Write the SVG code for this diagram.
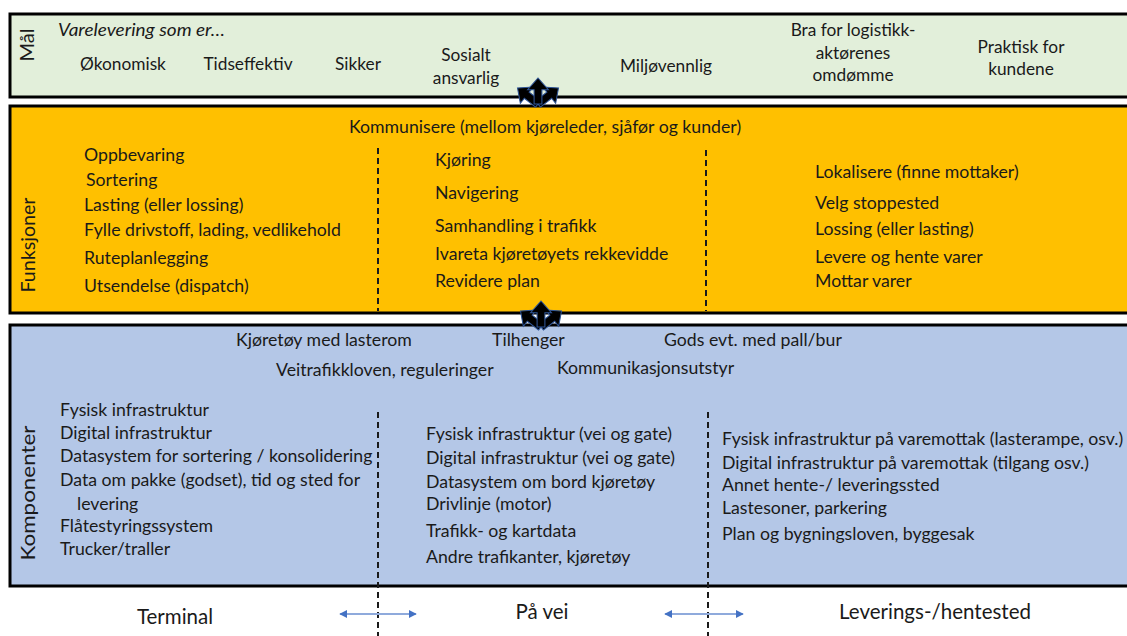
<svg xmlns="http://www.w3.org/2000/svg" width="1127" height="636" viewBox="0 0 1127 636">
<style>
text{font-family:Lato,"Open Sans","Liberation Sans",sans-serif;font-size:17.7px;fill:#1a1a1a}
.c{text-anchor:middle}
.top{font-size:17.3px}
.band{stroke:#000;stroke-width:3}
.dash{stroke:#1a1a1a;stroke-width:2;stroke-dasharray:6 4;fill:none}
.lab{font-size:20px}
.bot{font-size:20.5px}
</style>
<defs>
<path id="ua" d="M-3,0 L-3,-11 L-8,-11 L0,-20 L8,-11 L3,-11 L3,0 Z" fill="#000" stroke="#2F5597" stroke-width="0.8"/>
<g id="tri">
<use href="#ua" transform="rotate(-52)"/>
<use href="#ua" transform="rotate(52)"/>
<use href="#ua"/>
</g>
<marker id="ah" viewBox="0 0 10 10" refX="9" refY="5" markerWidth="4" markerHeight="4" orient="auto-start-reverse">
<path d="M0,0 L10,5 L0,10 Z" fill="#4472C4"/>
</marker>
</defs>

<g id="mal">
<rect class="band" x="10" y="14" width="1125" height="83" fill="#E2EFDA"/>
<text class="c lab" transform="translate(34,45) rotate(-90)" textLength="33" lengthAdjust="spacingAndGlyphs">Mål</text>
<text x="58" y="36" font-style="italic" font-size="19" textLength="167" lengthAdjust="spacingAndGlyphs">Varelevering som er…</text>
<text class="c top" x="123" y="70">Økonomisk</text>
<text class="c top" x="248" y="70">Tidseffektiv</text>
<text class="c top" x="358" y="70">Sikker</text>
<text class="c top" x="466" y="61">Sosialt</text>
<text class="c top" x="466" y="84">ansvarlig</text>
<text class="c top" x="666" y="72">Miljøvennlig</text>
<text class="c top" x="853" y="36">Bra for logistikk-</text>
<text class="c top" x="853" y="59">aktørenes</text>
<text class="c top" x="853" y="81">omdømme</text>
<text class="c top" x="1021" y="53">Praktisk for</text>
<text class="c top" x="1021" y="75">kundene</text>
</g>

<g id="funksjoner">
<rect class="band" x="10" y="106" width="1125" height="207" fill="#FFC000"/>
<text class="c lab" transform="translate(35,245) rotate(-90)" textLength="95" lengthAdjust="spacingAndGlyphs">Funksjoner</text>
<text class="c" x="545" y="133">Kommunisere (mellom kjøreleder, sjåfør og kunder)</text>
<text x="84" y="161">Oppbevaring</text>
<text x="86" y="186">Sortering</text>
<text x="84" y="211">Lasting (eller lossing)</text>
<text x="84" y="236">Fylle drivstoff, lading, vedlikehold</text>
<text x="84" y="264">Ruteplanlegging</text>
<text x="84" y="292">Utsendelse (dispatch)</text>
<text x="435" y="166">Kjøring</text>
<text x="435" y="199">Navigering</text>
<text x="435" y="232">Samhandling i trafikk</text>
<text x="435" y="260">Ivareta kjøretøyets rekkevidde</text>
<text x="435" y="287">Revidere plan</text>
<text x="815" y="178">Lokalisere (finne mottaker)</text>
<text x="815" y="209">Velg stoppested</text>
<text x="815" y="235">Lossing (eller lasting)</text>
<text x="815" y="263">Levere og hente varer</text>
<text x="815" y="287">Mottar varer</text>
</g>

<g id="komponenter">
<rect class="band" x="10" y="325" width="1125" height="261" fill="#B4C7E7"/>
<text class="c lab" transform="translate(35,493) rotate(-90)" textLength="135" lengthAdjust="spacingAndGlyphs">Komponenter</text>
<text x="236" y="346">Kjøretøy med lasterom</text>
<text x="492" y="346">Tilhenger</text>
<text x="664" y="346">Gods evt. med pall/bur</text>
<text x="276" y="376">Veitrafikkloven, reguleringer</text>
<text x="557" y="374">Kommunikasjonsutstyr</text>
<text x="60" y="416">Fysisk infrastruktur</text>
<text x="60" y="439">Digital infrastruktur</text>
<text x="60" y="462">Datasystem for sortering / konsolidering</text>
<text x="60" y="486">Data om pakke (godset), tid og sted for</text>
<text x="77" y="510">levering</text>
<text x="60" y="532">Flåtestyringssystem</text>
<text x="60" y="555">Trucker/traller</text>
<text x="426" y="440">Fysisk infrastruktur (vei og gate)</text>
<text x="426" y="464">Digital infrastruktur (vei og gate)</text>
<text x="426" y="488">Datasystem om bord kjøretøy</text>
<text x="426" y="510">Drivlinje (motor)</text>
<text x="426" y="537">Trafikk- og kartdata</text>
<text x="426" y="563">Andre trafikanter, kjøretøy</text>
<text x="722" y="445">Fysisk infrastruktur på varemottak (lasterampe, osv.)</text>
<text x="722" y="469">Digital infrastruktur på varemottak (tilgang osv.)</text>
<text x="722" y="491">Annet hente-/ leveringssted</text>
<text x="722" y="514">Lastesoner, parkering</text>
<text x="722" y="540">Plan og bygningsloven, byggesak</text>
</g>

<g id="bunn">
<text class="c bot" x="175" y="624">Terminal</text>
<text class="c bot" x="542" y="619">På vei</text>
<text class="c bot" x="935" y="619">Leverings-/hentested</text>
</g>

<g id="connectors">
<line class="dash" x1="378" y1="148" x2="378" y2="311"/>
<line class="dash" x1="706" y1="150" x2="706" y2="311"/>
<line class="dash" x1="378" y1="412" x2="378" y2="636"/>
<line class="dash" x1="708" y1="412" x2="708" y2="636"/>
<line x1="340" y1="614" x2="416" y2="614" stroke="#8FAADC" stroke-width="2" marker-start="url(#ah)" marker-end="url(#ah)"/>
<line x1="665" y1="614" x2="743" y2="614" stroke="#8FAADC" stroke-width="2" marker-start="url(#ah)" marker-end="url(#ah)"/>
<use href="#tri" transform="translate(538,104) scale(1.3)"/>
<use href="#tri" transform="translate(541,327) scale(1.3)"/>
</g>
</svg>
